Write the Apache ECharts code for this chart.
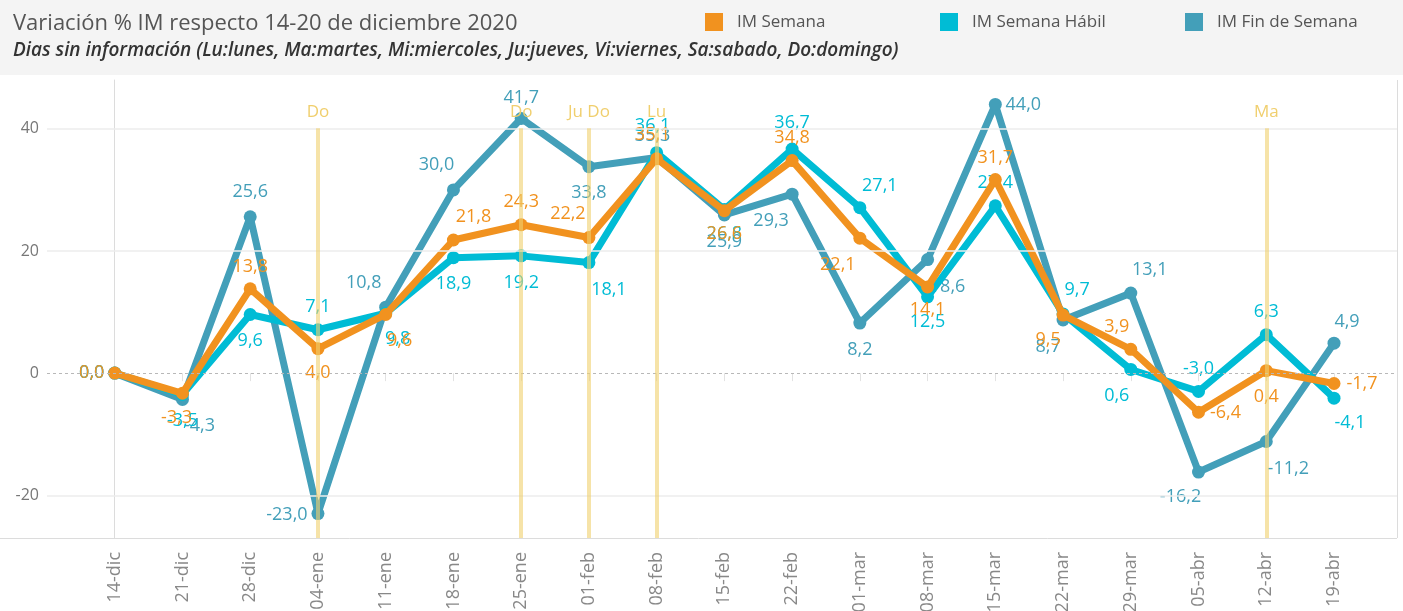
<!DOCTYPE html>
<html>
<head>
<meta charset="utf-8">
<script src="https://cdn.jsdelivr.net/npm/echarts@6/dist/echarts.min.js"></script>
<style>
  html, body { margin: 0; padding: 0; background: #ffffff; }
  #chart { width: 1403px; height: 611px; }
</style>
</head>
<body>
<div id="chart"></div>
<script>
// Weekly categories (week start dates)
const categories = ['14-dic','21-dic','28-dic','04-ene','11-ene','18-ene','25-ene','01-feb','08-feb','15-feb',
  '22-feb','01-mar','08-mar','15-mar','22-mar','29-mar','05-abr','12-abr','19-abr'];

// % variation vs. week 14-20 Dec 2020
const imSemana      = [0.0, -3.3, 13.8, 4.0, 9.6, 21.8, 24.3, 22.2, 35.1, 26.6, 34.8, 22.1, 14.1, 31.7, 9.5, 3.9, -6.4, 0.4, -1.7];
const imSemanaHabil = [0.0, -3.5, 9.6, 7.1, 9.8, 18.9, 19.2, 18.1, 36.1, 26.8, 36.7, 27.1, 12.5, 27.4, 9.7, 0.6, -3.0, 6.3, -4.1];
const imFinSemana   = [0.0, -4.3, 25.6, -23.0, 10.8, 30.0, 41.7, 33.8, 35.3, 25.9, 29.3, 8.2, 18.6, 44.0, 8.7, 13.1, -16.2, -11.2, 4.9];

// Weeks with days missing data
const missingIdx  = [3, 6, 7, 8, 17];
const missingText = ['Do', 'Do', 'Ju Do', 'Lu', 'Ma'];

// Y axis tick labels
const yTicks = [-20, 0, 20, 40];

// Label placement (pixel offsets from each point) so labels don't collide
const offSemana = [[-23,0],[-6,25],[0,-22],[0,24],[14,26],[20,-23],[0,-23],[-21,-24],[-4,-24],[0,23],
  [0,-23],[-22,27],[0,23],[0,-22],[-15,25],[-14,-22],[27,1],[0,26],[28,0]];
const offHabil = [[-23,0],[0,26],[0,26],[0,-23],[12,26],[0,26],[0,27],[20,27],[-4,-27],[0,24],
  [0,-26],[20,-22],[0,25],[0,-23],[14,-24],[-14,26],[0,-23],[0,-23],[16,25]];
const offFin = [[-23,0],[17,26],[0,-25],[-31,1],[-22,-24],[-17,-25],[0,-21],[0,26],[-4,-22],[0,27],
  [-21,27],[0,27],[20,27],[28,0],[-15,27],[19,-23],[-18,25],[22,27],[13,-21]];

const C_SEMANA = '#f1921f';
const C_HABIL = '#00bcd5';
const C_FIN = '#439fb9';
const FONT = 'Open Sans';

const fmt = v => v.toFixed(1).replace('.', ',');

function buildSeries(name, values, offsets, color, z) {
  return {
    name: name,
    type: 'line',
    z: z,
    symbol: 'circle',
    symbolSize: 13,
    lineStyle: { width: 7, color: color },
    itemStyle: { color: color },
    emphasis: { disabled: true },
    data: values.map((v, i) => ({
      value: [i, v],
      label: { offset: offsets[i] }
    })),
    label: {
      show: true,
      position: 'inside',
      color: color,
      fontFamily: FONT,
      fontSize: 18,
      formatter: p => fmt(p.value[1])
    }
  };
}

const chart = echarts.init(document.getElementById('chart'));

const option = {
  animation: false,
  backgroundColor: '#ffffff',
  title: {
    left: 8,
    top: 8,
    text: 'Variación % IM respecto 14-20 de diciembre 2020',
    subtext: 'Dias sin información (Lu:lunes, Ma:martes, Mi:miercoles, Ju:jueves, Vi:viernes, Sa:sabado, Do:domingo)',
    itemGap: 6,
    textStyle: { fontFamily: FONT, fontSize: 22, fontWeight: 'normal', color: '#555555' },
    subtextStyle: { fontFamily: FONT, fontSize: 19, fontWeight: 600, fontStyle: 'italic', color: '#333333' }
  },
  legend: [
    { left: 705, top: 13, data: ['IM Semana'] },
    { left: 940, top: 13, data: ['IM Semana Hábil'] },
    { left: 1185, top: 13, data: ['IM Fin de Semana'] }
  ].map(l => Object.assign(l, {
    icon: 'rect',
    padding: 0,
    itemWidth: 18,
    itemHeight: 18,
    selectedMode: false,
    textStyle: { fontFamily: FONT, fontSize: 17, color: '#555555', padding: [0, 0, 0, 9] }
  })),
  graphic: [
    { type: 'rect', z: -10, shape: { x: 0, y: 0, width: 1403, height: 75 }, style: { fill: '#f4f4f4' } },
    { type: 'line', z: 5, shape: { x1: 1397.5, y1: 80, x2: 1397.5, y2: 538 }, style: { stroke: '#dcdcdc', lineWidth: 1 } },
    { type: 'line', z: 5, shape: { x1: 0, y1: 538.5, x2: 1397, y2: 538.5 }, style: { stroke: '#dcdcdc', lineWidth: 1 } }
  ],
  grid: { left: 47, right: 6, top: 80, bottom: 73, containLabel: false, outerBoundsMode: 'none' },
  xAxis: {
    type: 'value',
    min: -1,
    max: 18.93,
    splitLine: { show: false },
    axisLine: { show: false },
    axisTick: {
      show: true, length: 8, lineStyle: { color: '#e2e2e2' },
      customValues: categories.map((c, i) => i)
    },
    axisLabel: {
      rotate: 90,
      margin: 14,
      fontFamily: FONT,
      fontSize: 18,
      color: '#888888',
      customValues: categories.map((c, i) => i),
      formatter: v => categories[Math.round(v)] || ''
    }
  },
  yAxis: {
    type: 'value',
    min: -27,
    max: 48,
    splitLine: { show: false },
    axisLine: { show: true, lineStyle: { color: '#dcdcdc' } },
    axisTick: { show: false, customValues: yTicks },
    axisLabel: {
      margin: 8,
      fontFamily: FONT,
      fontSize: 16,
      color: '#777777',
      customValues: yTicks
    }
  },
  series: [
    {
      // gridlines
      type: 'line',
      data: [],
      z: 0,
      silent: true,
      markLine: {
        silent: true,
        symbol: 'none',
        label: { show: false },
        data: yTicks.map(t => ({
          yAxis: t,
          lineStyle: t === 0
            ? { color: '#b8b8b8', width: 1, type: [3, 3] }
            : { color: '#ececec', width: 1.5, type: 'solid' }
        }))
      }
    },
    buildSeries('IM Fin de Semana', imFinSemana, offFin, C_FIN, 2),
    buildSeries('IM Semana Hábil', imSemanaHabil, offHabil, C_HABIL, 3),
    buildSeries('IM Semana', imSemana, offSemana, C_SEMANA, 4),
    {
      // weeks with missing days
      type: 'line',
      data: [],
      z: 10,
      silent: true,
      markLine: {
        silent: true,
        symbol: 'none',
        lineStyle: { color: 'rgba(240, 208, 110, 0.6)', width: 4, type: 'solid' },
        label: {
          show: true,
          position: 'start',
          distance: 8,
          color: '#f0cf6e',
          fontFamily: FONT,
          fontSize: 17
        },
        data: missingIdx.map((idx, k) => [
          { coord: [idx, 40.1], label: { formatter: missingText[k] } },
          { coord: [idx, -27] }
        ])
      }
    }
  ]
};

chart.setOption(option);
</script>
</body>
</html>
